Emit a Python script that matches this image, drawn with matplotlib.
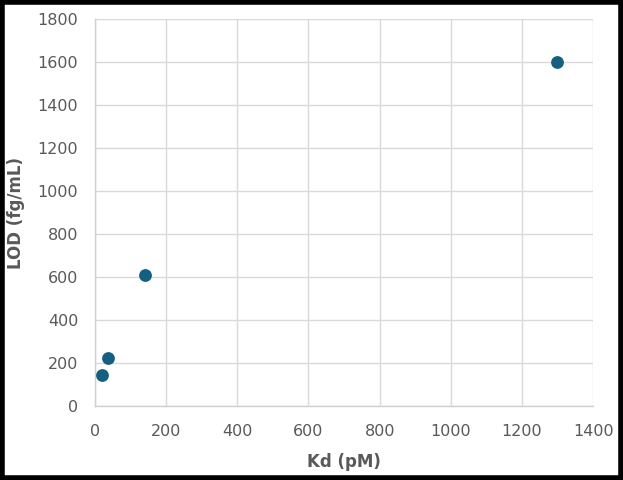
import matplotlib
matplotlib.use("Agg")
import matplotlib.pyplot as plt
from matplotlib.patches import Rectangle

# data
kd_pm = [20, 36, 141, 1298]
lod_fg_ml = [145, 222, 610, 1600]

x_ticks = [0, 200, 400, 600, 800, 1000, 1200, 1400]
y_ticks = [0, 200, 400, 600, 800, 1000, 1200, 1400, 1600, 1800]

plt.rcParams['font.family'] = ['DejaVu Sans']

fig = plt.figure(figsize=(6.23, 4.8), dpi=100)
ax = fig.add_axes([0.1525, 0.154, 0.7995, 0.806])

ax.scatter(kd_pm, lod_fg_ml, s=85, color="#156082", zorder=3, linewidths=0)

ax.set_xlim(0, 1400)
ax.set_ylim(0, 1800)
ax.set_xticks(x_ticks)
ax.set_yticks(y_ticks)
ax.grid(True, color="#d9d9d9", linewidth=1)
ax.set_axisbelow(True)
for side in ["top", "right"]:
    ax.spines[side].set_visible(False)
for side in ["left", "bottom"]:
    ax.spines[side].set_color("#d0d0d0")
    ax.spines[side].set_linewidth(1)
ax.tick_params(length=0, labelsize=11.5, labelcolor="#595959")
ax.tick_params(axis="x", pad=13)
ax.tick_params(axis="y", pad=12)

ax.set_xlabel("Kd (pM)", fontsize=12, fontweight="bold", color="#595959")
ax.set_ylabel("LOD (fg/mL)", fontsize=12, fontweight="bold", color="#595959")
ax.xaxis.set_label_coords(0.5, -0.122)
ax.yaxis.set_label_coords(-0.14, 0.5)

# black frame around the whole picture
fig.patches.append(Rectangle((0.003, 0.004), 0.994, 0.992, transform=fig.transFigure,
                             fill=False, edgecolor="black", linewidth=4))

fig.savefig("out.png", dpi=100)
